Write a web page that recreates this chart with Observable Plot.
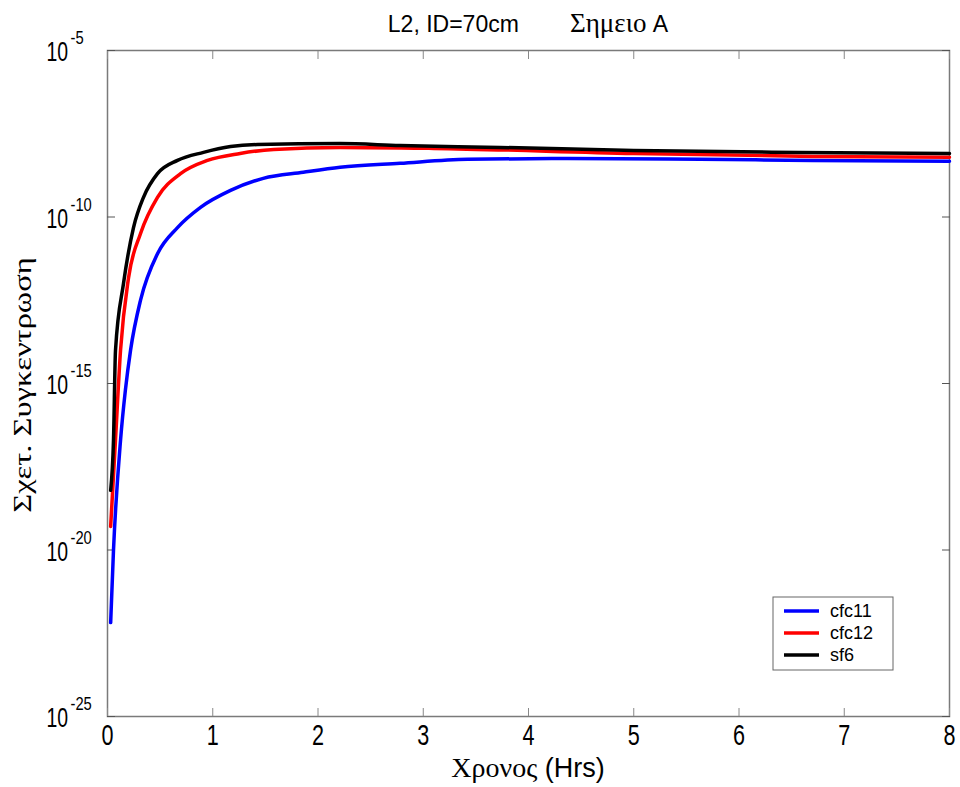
<!DOCTYPE html>
<html>
<head>
<meta charset="utf-8">
<script src="https://cdn.jsdelivr.net/npm/d3@7"></script>
<script src="https://cdn.jsdelivr.net/npm/@observablehq/plot@0.6"></script>
<style>
  html, body { margin: 0; padding: 0; background: #fff; }
  #chart svg { display: block; }
</style>
</head>
<body>
<div id="chart"></div>
<script>
// ---- data ----
const titleMain = "L2, ID=70cm";
const titleGreek = "Σημειο";
const titleTail = " A";
const xLabelGreek = "Χρονος";
const xLabelTail = " (Hrs)";
const yLabel = "Σχετ. Συγκεντρωση";

const xTicks = [0, 1, 2, 3, 4, 5, 6, 7, 8];
const yTicks = [1e-25, 1e-20, 1e-15, 1e-10, 1e-5];

const seriesNames = ["cfc11", "cfc12", "sf6"];
const seriesColors = ["#0000ff", "#ff0000", "#000000"];

const cfc11Time = [0.03, 0.057, 0.124, 0.17, 0.219, 0.314, 0.475, 0.665, 0.884, 1.169, 1.48, 1.86, 2.21, 2.78, 3.42, 4.37, 5.63, 6.7, 8.0];
const cfc11Conc = [6.6e-23, 1.0e-20, 2.0e-17, 6.3e-16, 1.0e-14, 3.2e-13, 7.9e-12, 4.8e-11, 1.95e-10, 6.3e-10, 1.45e-9, 2.2e-9, 3.1e-9, 4.1e-9, 5.4e-9, 5.75e-9, 5.4e-9, 5.0e-9, 4.7e-9];

const cfc12Time = [0.03, 0.076, 0.124, 0.2, 0.314, 0.475, 0.694, 0.95, 1.26, 1.58, 2.21, 3.1, 5.0, 6.7, 8.0];
const cfc12Conc = [5.1e-20, 2.0e-17, 1.0e-14, 1.5e-12, 3.2e-11, 3.9e-10, 2.0e-9, 5.0e-9, 8.1e-9, 1.07e-8, 1.23e-8, 1.15e-8, 8.1e-9, 6.6e-9, 6.2e-9];

const sf6Time = [0.03, 0.057, 0.076, 0.152, 0.247, 0.342, 0.475, 0.665, 0.912, 1.169, 1.425, 2.21, 2.78, 3.73, 5.0, 6.58, 8.0];
const sf6Conc = [6.2e-19, 2.0e-17, 9.8e-15, 1.0e-12, 4.8e-11, 3.9e-10, 2.0e-9, 5.0e-9, 8.7e-9, 1.3e-8, 1.5e-8, 1.6e-8, 1.4e-8, 1.23e-8, 1.0e-8, 8.7e-9, 8.1e-9];

// ---- build table ----
const seriesTimes = [cfc11Time, cfc12Time, sf6Time];
const seriesConcs = [cfc11Conc, cfc12Conc, sf6Conc];
const rows = [];
seriesNames.forEach((name, k) => {
  seriesTimes[k].forEach((t, i) => rows.push({series: name, t, c: seriesConcs[k][i]}));
});

const SANS = "'Liberation Sans', Arial, Helvetica, sans-serif";
const SERIF = "'Liberation Serif', 'Times New Roman', 'DejaVu Serif', serif";

const plot = Plot.plot({
  width: 960,
  height: 787,
  marginLeft: 107,
  marginRight: 11,
  marginTop: 50,
  marginBottom: 71,
  style: {fontFamily: SANS, background: "#fff"},
  x: {domain: [0, 8]},
  y: {type: "log", domain: [1e-25, 1e-5]},
  color: {domain: seriesNames, range: seriesColors},
  marks: [
    Plot.frame({stroke: "#7a7a7a", strokeWidth: 1.5}),
    Plot.axisX(xTicks, {anchor: "bottom", tickSize: -8, tickFormat: () => "", stroke: "#888", label: null}),
    Plot.axisX(xTicks, {anchor: "top", tickSize: -8, tickFormat: () => "", stroke: "#888", label: null}),
    Plot.axisY(yTicks, {anchor: "left", tickSize: -8, tickFormat: () => "", stroke: "#555", label: null}),
    Plot.axisY(yTicks, {anchor: "right", tickSize: -8, tickFormat: () => "", stroke: "#555", label: null}),
    Plot.line(rows, {x: "t", y: "c", z: "series", stroke: "series", strokeWidth: 3.5, curve: "monotone-x"}),
    Plot.text(xTicks, {x: d => d, frameAnchor: "bottom", dy: 28, text: d => String(d),
      fontSize: 30, fill: "#000", className: "xtick-label"}),
    Plot.text(yTicks, {y: d => d, frameAnchor: "left", dx: -61, dy: 2, textAnchor: "start", text: () => "10",
      fontSize: 27, fill: "#000", className: "ytick-base"}),
    Plot.text(yTicks, {y: d => d, frameAnchor: "left", dx: -37, dy: -12, textAnchor: "start",
      text: d => String(Math.round(Math.log10(d))), fontSize: 18, fill: "#000", className: "ytick-exp"})
  ]
});

document.getElementById("chart").appendChild(plot);
const svg = d3.select(plot);

function condense(selector, sx) {
  svg.selectAll(selector + " text").each(function () {
    const t = this.getAttribute("transform") || "";
    this.setAttribute("transform", t + ` scale(${sx},1)`);
  });
}
condense(".xtick-label", 0.72);
condense(".ytick-base", 0.72);
condense(".ytick-exp", 0.82);

// Title
const title = svg.append("text")
  .attr("x", 528).attr("y", 32)
  .attr("text-anchor", "middle")
  .attr("font-size", 23)
  .attr("fill", "#000");
title.append("tspan").attr("font-family", SANS).text(titleMain);
title.append("tspan").attr("font-family", SANS).text("\u00a0\u00a0\u00a0\u00a0\u00a0\u00a0\u00a0\u00a0");
title.append("tspan").attr("font-family", SERIF).attr("font-size", 27).text(titleGreek);
title.append("tspan").attr("font-family", SANS).text(titleTail);

// X label
const xl = svg.append("text")
  .attr("x", 528).attr("y", 777)
  .attr("text-anchor", "middle")
  .attr("font-size", 27)
  .attr("fill", "#000");
xl.append("tspan").attr("font-family", SERIF).attr("font-size", 28).text(xLabelGreek);
xl.append("tspan").attr("font-family", SANS).text(xLabelTail);

// Y label
svg.append("text")
  .attr("transform", "translate(31,385) rotate(-90) scale(1.3,1)")
  .attr("text-anchor", "middle")
  .attr("font-family", SERIF)
  .attr("font-size", 25)
  .attr("fill", "#000")
  .text(yLabel);

// Legend
const lg = svg.append("g").attr("transform", "translate(773,597)");
lg.append("rect").attr("width", 120).attr("height", 73)
  .attr("fill", "#fff").attr("stroke", "#666").attr("stroke-width", 1);
seriesNames.forEach((name, i) => {
  const y = 14 + i * 22;
  lg.append("line").attr("x1", 11).attr("x2", 46).attr("y1", y).attr("y2", y)
    .attr("stroke", seriesColors[i]).attr("stroke-width", 3.5);
  lg.append("text").attr("x", 57).attr("y", y + 6)
    .attr("text-anchor", "start")
    .attr("font-family", SANS).attr("font-size", 18).attr("fill", "#000").text(name);
});
</script>
</body>
</html>
